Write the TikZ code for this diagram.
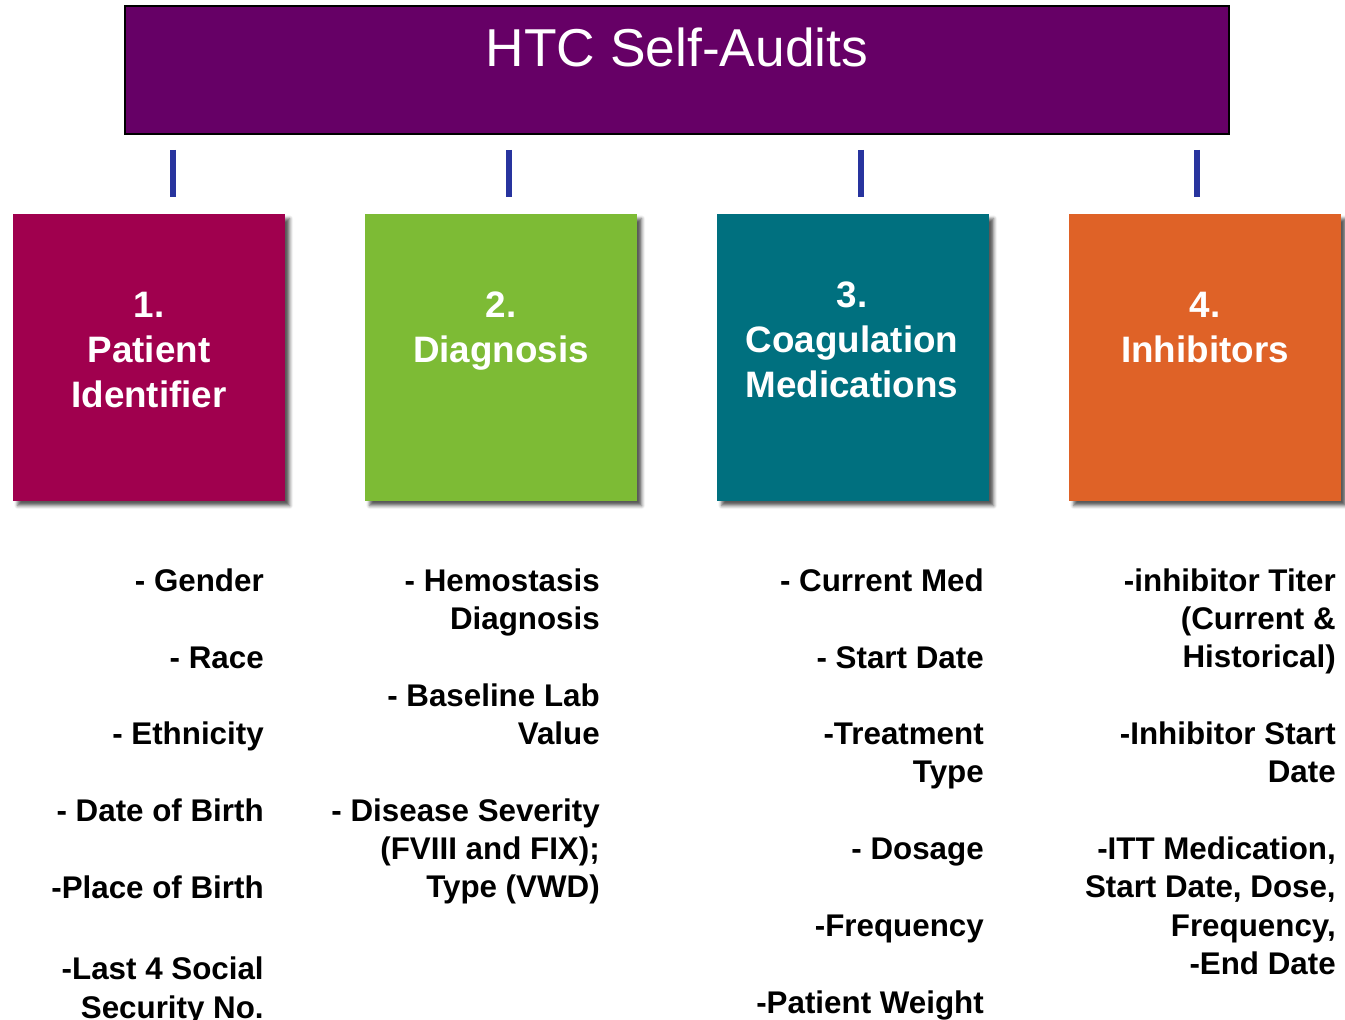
\documentclass[tikz,border=0pt]{standalone}
\usepackage{fontspec}
\setmainfont{Liberation Sans}
\usetikzlibrary{shadows.blur}

\definecolor{titlepurple}{HTML}{660066}
\definecolor{tickblue}{HTML}{28349E}
\definecolor{crimsonbox}{HTML}{A0004E}
\definecolor{greenbox}{HTML}{7DBB35}
\definecolor{tealbox}{HTML}{00707F}
\definecolor{orangebox}{HTML}{DF6227}

% multi-line nodes sit on the baseline of their last line
\tikzset{
  titlebox/.style={draw=black, line width=1pt, fill=titlepurple,
    minimum width=828pt, minimum height=96pt, inner sep=0pt},
  titletext/.style={text=white, font=\fontsize{40}{48}\selectfont,
    anchor=base, inner sep=0pt},
  catbox/.style={minimum width=204pt, minimum height=215.25pt, inner sep=0pt,
    blur shadow={shadow xshift=3.5pt, shadow yshift=-3.5pt,
      shadow blur radius=2.5pt, shadow opacity=65}},
  catlabel/.style={text=white, font=\bfseries\fontsize{27.6}{33.75}\selectfont,
    align=center, anchor=base, inner sep=0pt},
  tick/.style={draw=tickblue, line width=4.5pt},
  item/.style={font=\bfseries\fontsize{23.5}{28.76}\selectfont,
    align=right, anchor=base east, inner sep=0pt},
}

\begin{document}
\begin{tikzpicture}[x=0.75pt, y=-0.75pt]
\useasboundingbox (0,0) rectangle (1345,1020);

% header
\node[titlebox] (title) at (677,70) {};
\node[titletext] (titlelbl) at (677,67) {HTC Self-Audits};

% four category boxes
\node[catbox, fill=crimsonbox] (box1) at (149,357.5) {};
\node[catbox, fill=greenbox]   (box2) at (501,357.5) {};
\node[catbox, fill=tealbox]    (box3) at (853,357.5) {};
\node[catbox, fill=orangebox]  (box4) at (1205,357.5) {};

\node[catlabel] (lbl1) at (149,407) {1.\\Patient\\Identifier};
\node[catlabel] (lbl2) at (501,362) {2.\\Diagnosis};
\node[catlabel] (lbl3) at (852,397) {3.\\Coagulation\\Medications};
\node[catlabel] (lbl4) at (1205,362) {4.\\Inhibitors};

% short blue ticks between header and boxes
\foreach \i/\x in {1/173, 2/509, 3/861, 4/1197}{
  \coordinate (ta\i) at (\x,150);
  \coordinate (tb\i) at (\x,197);
  \draw[tick] (ta\i) -- (tb\i);
}

% column 1: patient identifier fields
\node[item] (p1) at (264,591)    {- Gender};
\node[item] (p2) at (264,668)    {- Race};
\node[item] (p3) at (264,744)    {- Ethnicity};
\node[item] (p4) at (264,821)    {- Date of Birth};
\node[item] (p5) at (264,898)    {-Place of Birth};
\node[item] (p6) at (264,1018)   {-Last 4 Social\\Security No.};

% column 2: diagnosis fields
\node[item] (d1) at (600,629.4)  {- Hemostasis\\Diagnosis};
\node[item] (d2) at (600,744.4)  {- Baseline Lab\\Value};
\node[item] (d3) at (600,897.7)  {- Disease Severity\\(FVIII and FIX);\\Type (VWD)};

% column 3: coagulation medication fields
\node[item] (m1) at (984,591)    {- Current Med};
\node[item] (m2) at (984,668)    {- Start Date};
\node[item] (m3) at (984,782.4)  {-Treatment\\Type};
\node[item] (m4) at (984,859.5)  {- Dosage};
\node[item] (m5) at (984,936)    {-Frequency};
\node[item] (m6) at (984,1013)   {-Patient Weight};

% column 4: inhibitor fields
\node[item] (i1) at (1336,667.7) {-inhibitor Titer\\(Current \&\\Historical)};
\node[item] (i2) at (1336,782.4) {-Inhibitor Start\\Date};
\node[item] (i3) at (1336,974.5) {-ITT Medication,\\Start Date, Dose,\\Frequency,\\-End Date};
\end{tikzpicture}
\end{document}
